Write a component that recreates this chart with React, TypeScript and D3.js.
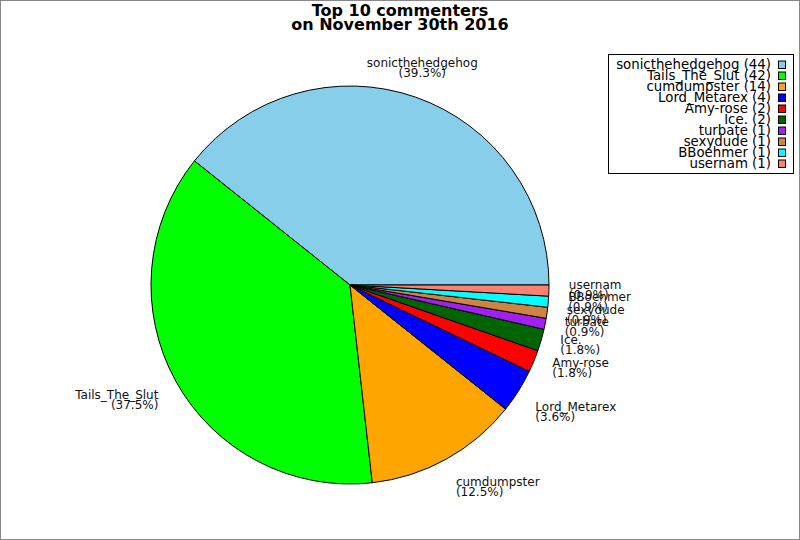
import { useEffect, useRef } from 'react';
import * as d3 from 'd3';

// commenters and their comment counts
const names = [
  'sonicthehedgehog', 'Tails_The_Slut', 'cumdumpster', 'Lord_Metarex', 'Amy-rose',
  'Ice.', 'turbate', 'sexydude', 'BBoehmer', 'usernam'
];
const counts = [44, 42, 14, 4, 2, 2, 1, 1, 1, 1];
const sliceColors = [
  '#87ceeb', '#00ff00', '#ffa500', '#0000ff', '#ff0000',
  '#006400', '#a020f0', '#cd853f', '#00ffff', '#fa8072'
];
const titleLines = ['Top 10 commenters', 'on November 30th 2016'];

interface Item {
  name: string;
  count: number;
  color: string;
}

export default function App() {
  const svgRef = useRef<SVGSVGElement>(null);

  useEffect(() => {
    document.body.style.margin = '0';
    if (!svgRef.current) return;

    const W = 800;
    const H = 540;
    const cx = 350;
    const cy = 285;
    const r = 199;
    const font = 'DejaVu Sans, sans-serif';

    const svg = d3.select(svgRef.current);
    svg.selectAll('*').remove();

    const items: Item[] = names.map((n, i) => ({ name: n, count: counts[i], color: sliceColors[i] }));
    const total = d3.sum(counts);
    const pct = d3.format('.1f');

    // frame
    svg.append('rect')
      .attr('x', 0.5).attr('y', 0.5)
      .attr('width', W - 1).attr('height', H - 1)
      .attr('fill', '#fff')
      .attr('stroke', '#888');

    // title
    const title = svg.append('text')
      .attr('text-anchor', 'middle')
      .attr('font-family', font)
      .attr('font-weight', 'bold')
      .attr('font-size', 16);
    titleLines.forEach((t, i) => {
      title.append('tspan').attr('x', W / 2).attr('y', 16 + i * 13.5).text(t);
    });

    // pie: counter-clockwise from 3 o'clock
    const pie = d3.pie<Item>()
      .value(d => d.count)
      .sort(null)
      .startAngle(Math.PI / 2)
      .endAngle(Math.PI / 2 - 2 * Math.PI);
    const arcs = pie(items);
    const arc = d3.arc<d3.PieArcDatum<Item>>().innerRadius(0).outerRadius(r);

    const g = svg.append('g').attr('transform', `translate(${cx},${cy})`);
    g.selectAll('path')
      .data(arcs)
      .enter()
      .append('path')
      .attr('d', arc)
      .attr('fill', d => d.data.color)
      .attr('stroke', '#000')
      .attr('stroke-width', 1)
      .attr('stroke-linejoin', 'round');

    // labels outside the pie
    const labelR = r * 1.1;
    const blockH = 21;
    arcs.forEach(a => {
      const mid = (a.startAngle + a.endAngle) / 2;
      const th = Math.PI / 2 - mid;
      const c = Math.cos(th);
      const s = Math.sin(th);
      const xt = cx + labelR * c;
      const yt = cy - labelR * s;

      let dy: number;
      if (s <= -0.5) dy = 0;
      else if (s >= 0.5) dy = 1;
      else if (s < -0.4) dy = 0.55 * (s + 0.5) / 0.1;
      else if (s > 0.4) dy = 0.55 + 0.45 * (s - 0.4) / 0.1;
      else dy = 0.55;

      const anchor = c > 0.4 ? 'start' : c < -0.4 ? 'end' : 'middle';
      const top = yt - dy * blockH;

      const t = svg.append('text')
        .attr('font-family', font)
        .attr('font-size', 12)
        .attr('fill', '#111')
        .attr('text-anchor', anchor);
      t.append('tspan').attr('x', xt).attr('y', top + 9.5).text(a.data.name);
      t.append('tspan').attr('x', xt).attr('y', top + 19.5).text(`(${pct(a.data.count / total * 100)}%)`);
    });

    // legend
    const lgX = 608;
    const lgY = 54;
    const lgW = 185;
    const rowH = 11;
    const lgH = 119;
    const legend = svg.append('g');
    legend.append('rect')
      .attr('x', lgX + 0.5).attr('y', lgY + 0.5)
      .attr('width', lgW).attr('height', lgH)
      .attr('fill', '#fff')
      .attr('stroke', '#000');

    items.forEach((d, i) => {
      const base = lgY + 14.5 + i * rowH;
      legend.append('text')
        .attr('x', lgX + 163)
        .attr('y', base)
        .attr('text-anchor', 'end')
        .attr('font-family', font)
        .attr('font-size', 13.33)
        .attr('fill', '#000')
        .text(`${d.name} (${d.count})`);
      legend.append('rect')
        .attr('x', lgX + 170.5)
        .attr('y', base - 7.5)
        .attr('width', 7)
        .attr('height', 7.5)
        .attr('fill', d.color)
        .attr('stroke', '#000');
    });
  }, []);

  return <svg ref={svgRef} width={800} height={540} style={{ display: 'block' }} />;
}
